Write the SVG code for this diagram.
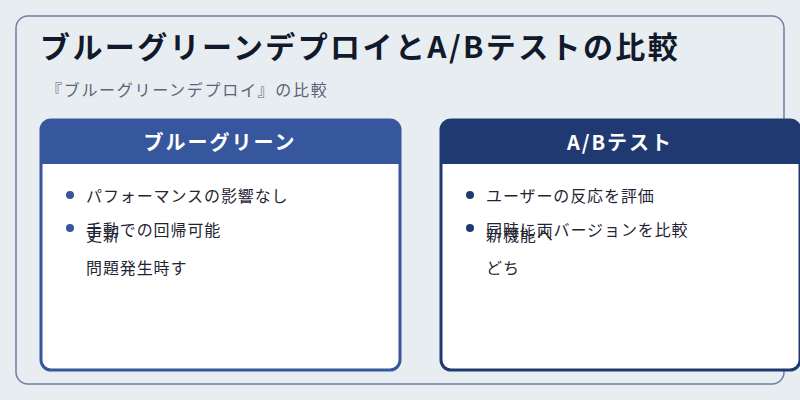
<svg xmlns="http://www.w3.org/2000/svg" width="800" height="400" viewBox="0 0 800 400">
<style>
text{font-family:"Noto Sans CJK JP","Noto Sans",sans-serif}
.b{font-size:16px;fill:#1f2533;letter-spacing:0.9px}
.h{font-size:20px;font-weight:bold;fill:#fff;text-anchor:middle;letter-spacing:2px}
</style>
<rect width="800" height="400" fill="#e8edf2"/>
<rect x="16" y="16" width="768" height="368" rx="12" fill="#e8edf2" stroke="#6b80a8" stroke-width="1.5"/>
<text x="40" y="58" font-size="30" font-weight="bold" fill="#111a2b" letter-spacing="2.4">ブルーグリーンデプロイとA/Bテストの比較</text>
<text x="46" y="96" font-size="16" fill="#5a6478" letter-spacing="1.7">『ブルーグリーンデプロイ』の比較</text>
<g id="blue">
<rect x="41" y="120" width="359" height="250" rx="10" fill="#fff" stroke="#36579e" stroke-width="3"/>
<path d="M41 164V130a10 10 0 0 1 10-10h339a10 10 0 0 1 10 10v34z" fill="#36579e"/>
<text x="220" y="150" class="h">ブルーグリーン</text>
<circle cx="70" cy="195" r="4" fill="#36579e"/><circle cx="70" cy="228" r="4" fill="#36579e"/>
<text x="86" y="202" class="b">パフォーマンスの影響なし</text>
<text x="86" y="236" class="b">手動での回帰可能</text>
<text x="86" y="241" class="b">更新</text>
<text x="86" y="274" class="b">問題発生時す</text>
</g>
<g id="ab">
<rect x="441" y="120" width="359" height="250" rx="10" fill="#fff" stroke="#1f3a70" stroke-width="3"/>
<path d="M441 164V130a10 10 0 0 1 10-10h339a10 10 0 0 1 10 10v34z" fill="#1f3a70"/>
<text x="620" y="150" class="h">A/Bテスト</text>
<circle cx="470" cy="195" r="4" fill="#1f3a70"/><circle cx="470" cy="228" r="4" fill="#1f3a70"/>
<text x="486" y="202" class="b">ユーザーの反応を評価</text>
<text x="486" y="236" class="b">同時に両バージョンを比較</text>
<text x="486" y="241" class="b">新機能へ</text>
<text x="486" y="274" class="b">どち</text>
</g>
<g id="connectors"/>
</svg>
